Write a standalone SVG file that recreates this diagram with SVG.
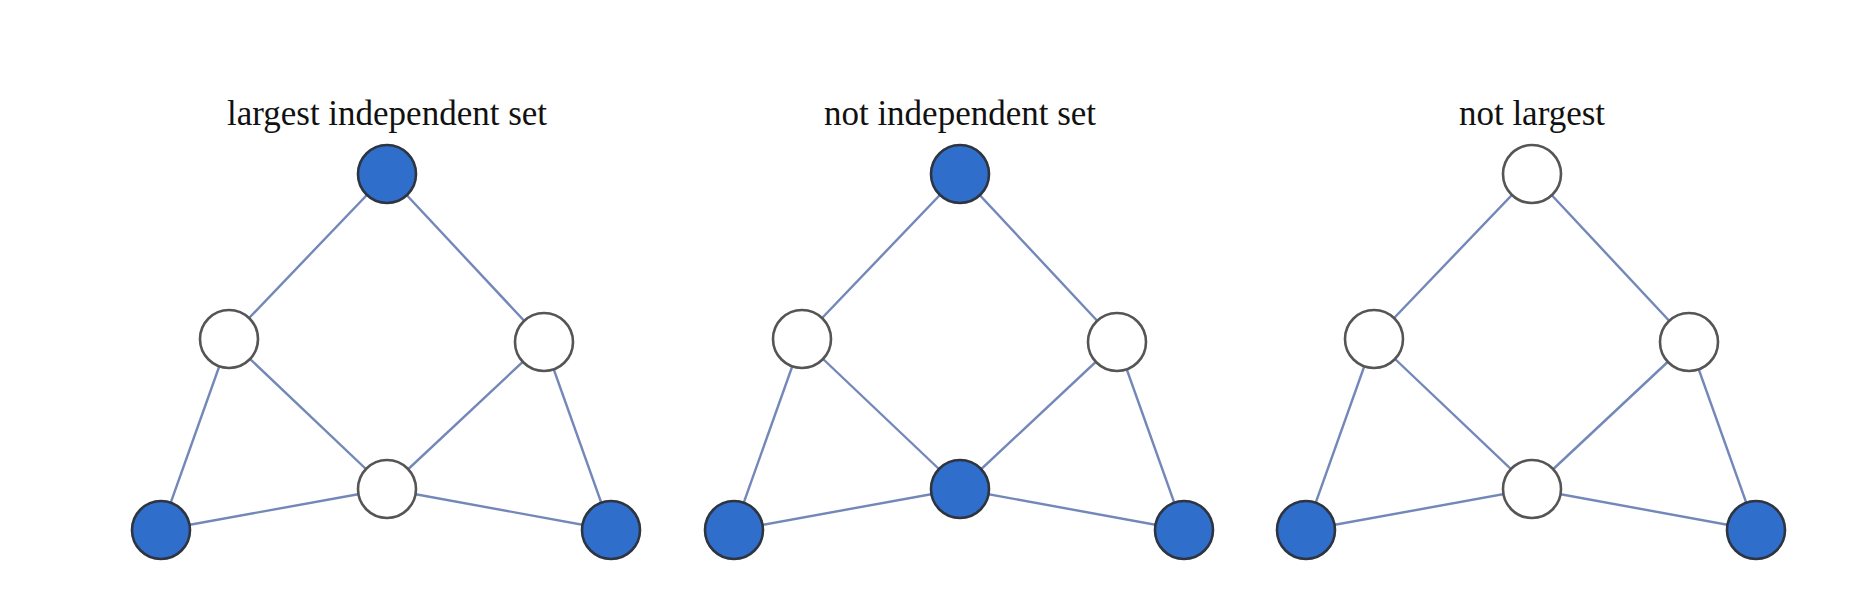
<svg xmlns="http://www.w3.org/2000/svg" width="1868" height="614" viewBox="0 0 1868 614">
<defs>
<style>
.bg{fill:#ffffff}
.edge{stroke:#7388b8;stroke-width:2.4;fill:none}
.on{fill:#2f6fcb;stroke:#2e3440;stroke-width:2.6}
.off{fill:#ffffff;stroke:#555555;stroke-width:2.6}
.title{font-family:"Liberation Serif","Times New Roman",serif;font-size:35px;fill:#111111;text-anchor:middle}
</style>
<g id="graphEdges">
<line x1="387" y1="174" x2="229" y2="339"/>
<line x1="387" y1="174" x2="544" y2="342"/>
<line x1="229" y1="339" x2="161" y2="530"/>
<line x1="229" y1="339" x2="387" y2="489"/>
<line x1="544" y1="342" x2="387" y2="489"/>
<line x1="544" y1="342" x2="611" y2="530"/>
<line x1="161" y1="530" x2="387" y2="489"/>
<line x1="387" y1="489" x2="611" y2="530"/>
</g>
</defs>
<rect class="bg" x="0" y="0" width="1868" height="614"/>
<g id="connectors" class="edge">
<use href="#graphEdges" x="0" y="0"/>
<use href="#graphEdges" x="573" y="0"/>
<use href="#graphEdges" x="1145" y="0"/>
</g>
<g id="label1"><text class="title" x="387" y="125">largest independent set</text></g>
<g id="label2"><text class="title" x="960" y="125">not independent set</text></g>
<g id="label3"><text class="title" x="1532" y="125">not largest</text></g>
<g id="g1-top"><circle class="on" cx="387" cy="174" r="29"/></g>
<g id="g1-midleft"><circle class="off" cx="229" cy="339" r="29"/></g>
<g id="g1-midright"><circle class="off" cx="544" cy="342" r="29"/></g>
<g id="g1-center"><circle class="off" cx="387" cy="489" r="29"/></g>
<g id="g1-botleft"><circle class="on" cx="161" cy="530" r="29"/></g>
<g id="g1-botright"><circle class="on" cx="611" cy="530" r="29"/></g>
<g id="g2-top"><circle class="on" cx="960" cy="174" r="29"/></g>
<g id="g2-midleft"><circle class="off" cx="802" cy="339" r="29"/></g>
<g id="g2-midright"><circle class="off" cx="1117" cy="342" r="29"/></g>
<g id="g2-center"><circle class="on" cx="960" cy="489" r="29"/></g>
<g id="g2-botleft"><circle class="on" cx="734" cy="530" r="29"/></g>
<g id="g2-botright"><circle class="on" cx="1184" cy="530" r="29"/></g>
<g id="g3-top"><circle class="off" cx="1532" cy="174" r="29"/></g>
<g id="g3-midleft"><circle class="off" cx="1374" cy="339" r="29"/></g>
<g id="g3-midright"><circle class="off" cx="1689" cy="342" r="29"/></g>
<g id="g3-center"><circle class="off" cx="1532" cy="489" r="29"/></g>
<g id="g3-botleft"><circle class="on" cx="1306" cy="530" r="29"/></g>
<g id="g3-botright"><circle class="on" cx="1756" cy="530" r="29"/></g>
</svg>
